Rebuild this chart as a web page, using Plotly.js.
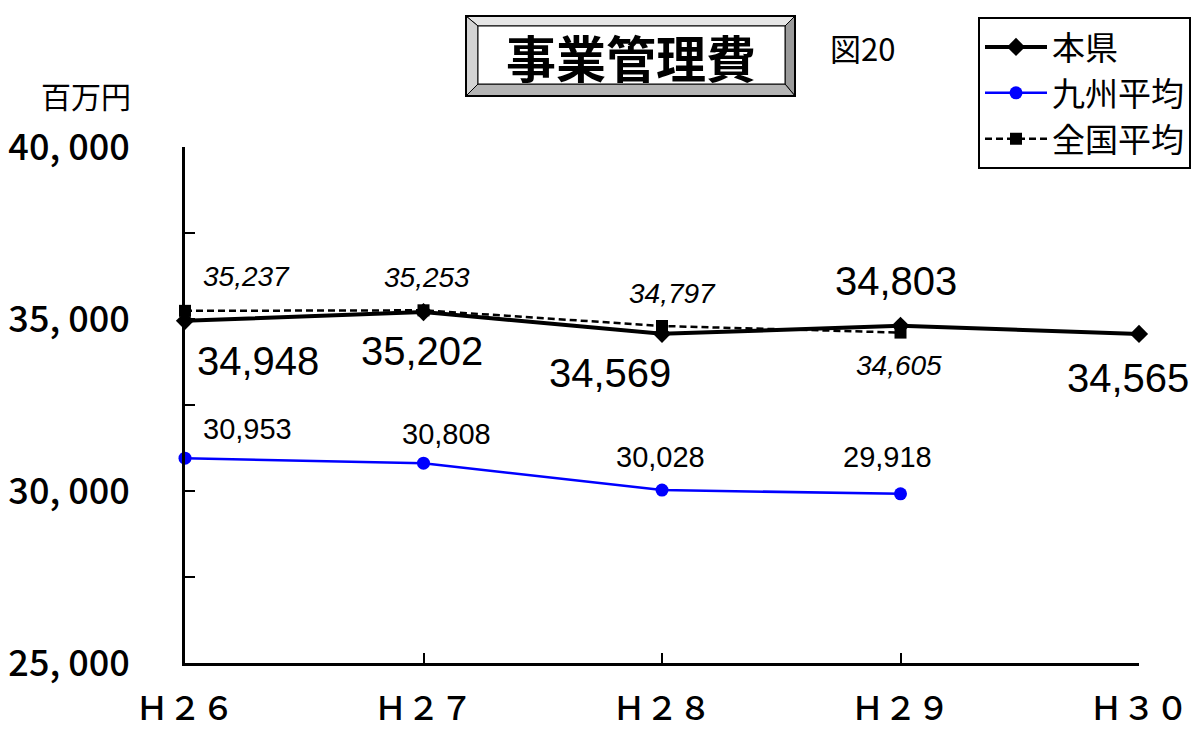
<!DOCTYPE html>
<html>
<head>
<meta charset="utf-8">
<script src="https://cdn.plot.ly/plotly-3.0.1.min.js"></script>
<style>html,body{margin:0;padding:0;background:#fff;}#chart{width:1203px;height:729px;}</style>
</head>
<body>
<div id="chart"></div>
<script>
// ---- data ----
const categories = ["H26", "H27", "H28", "H29", "H30"];
const categoryLabels = ["Ｈ２６", "Ｈ２７", "Ｈ２８", "Ｈ２９", "Ｈ３０"];
const honken = [34948, 35202, 34569, 34803, 34565];
const kyushu = [30953, 30808, 30028, 29918];
const zenkoku = [35237, 35253, 34797, 34605];
const yTickVals = [25000, 27500, 30000, 32500, 35000, 37500, 40000];
const yTickText = ["25, 000", "", "30, 000", "", "35, 000", "", "40, 000"];
const seriesNames = ["本県", "九州平均", "全国平均"];

// ---- layout helpers (pixel -> paper) ----
const W = 1203, H = 729;
const L = 185, R = 1139, T = 147, B = 663;
const px = x => (x - L) / (R - L);
const py = y => (B - y) / (B - T);

const fmt = v => v.toLocaleString("en-US");
const jp = '"Noto Sans CJK JP", "Noto Sans", sans-serif';
const ar = 'Arial, "Liberation Sans", sans-serif';

const traces = [
  {x: categories, y: honken, name: seriesNames[0], mode: "lines+markers",
   line: {color: "#000000", width: 4}, marker: {symbol: "diamond", size: 14, color: "#000000"}, cliponaxis: false},
  {x: categories.slice(0, kyushu.length), y: kyushu, name: seriesNames[1], mode: "lines+markers",
   line: {color: "#0000ff", width: 2.5}, marker: {symbol: "circle", size: 13, color: "#0000ff"}, cliponaxis: false},
  {x: categories.slice(0, zenkoku.length), y: zenkoku, name: seriesNames[2], mode: "lines+markers",
   line: {color: "#000000", width: 2.5, dash: "7px,4px"}, marker: {symbol: "square", size: 12, color: "#000000"}, cliponaxis: false}
];

// label offsets (style)
const honOff = [[73, 40], [-2, 39], [-52, 39], [-5, -45], [-11, 44]];
const kyuOff = [[62, -29], [23, -29], [-2, -33], [-13, -37]];
const zenOff = [[61, -34], [3, -33], [10, -32], [-2, 33]];

const annotations = [];
honken.forEach((v, i) => annotations.push({x: categories[i], y: v, xref: "x", yref: "y", text: fmt(v), showarrow: false,
  xanchor: "center", yanchor: "middle",
  xshift: honOff[i][0], yshift: -honOff[i][1], font: {family: ar, size: 40, color: "#000"}}));
kyushu.forEach((v, i) => annotations.push({x: categories[i], y: v, xref: "x", yref: "y", text: fmt(v), showarrow: false,
  xanchor: "center", yanchor: "middle",
  xshift: kyuOff[i][0], yshift: -kyuOff[i][1], font: {family: ar, size: 29, color: "#000"}}));
zenkoku.forEach((v, i) => annotations.push({x: categories[i], y: v, xref: "x", yref: "y", text: "<i>" + fmt(v) + "</i>", showarrow: false,
  xanchor: "center", yanchor: "middle",
  xshift: zenOff[i][0], yshift: -zenOff[i][1], font: {family: ar, size: 28, color: "#000"}}));

const paperNote = (x, y, text, size) => ({xref: "paper", yref: "paper", x: px(x), y: py(y), text: text, showarrow: false,
  xanchor: "center", yanchor: "middle", font: {family: jp, size: size, color: "#000"}});
annotations.push(paperNote(86, 95, "百万円", 30));
annotations.push(paperNote(862, 47, "図20", 31));
annotations.push(paperNote(631, 56, "<b>事業管理費</b>", 50));

// beveled title frame
const ox0 = 466, ox1 = 795, oy0 = 16, oy1 = 96;
const ix0 = 478, ix1 = 785, iy0 = 26, iy1 = 84;
const poly = (pts, fill) => ({type: "path", xref: "paper", yref: "paper", layer: "above",
  path: "M" + pts.map(p => px(p[0]) + "," + py(p[1])).join("L") + "Z",
  fillcolor: fill, line: {color: "#000", width: 1}});
const shapes = [
  poly([[ox0, oy0], [ox1, oy0], [ix1, iy0], [ix0, iy0]], "#e6e6e6"),
  poly([[ox0, oy0], [ix0, iy0], [ix0, iy1], [ox0, oy1]], "#d4d4d4"),
  poly([[ox1, oy0], [ox1, oy1], [ix1, iy1], [ix1, iy0]], "#9a9a9a"),
  poly([[ox0, oy1], [ix0, iy1], [ix1, iy1], [ox1, oy1]], "#b4b4b4"),
  poly([[ix0, iy0], [ix1, iy0], [ix1, iy1], [ix0, iy1]], "#ffffff"),
  {type: "rect", xref: "paper", yref: "paper", x0: px(ox0), x1: px(ox1), y0: py(oy0), y1: py(oy1),
   line: {color: "#000", width: 2}, layer: "above"}
];

const layout = {
  width: W, height: H,
  margin: {l: L, r: W - R, t: T, b: H - B, pad: 0},
  paper_bgcolor: "#fff", plot_bgcolor: "#fff",
  showlegend: true,
  legend: {x: px(978), y: py(17), xanchor: "left", yanchor: "top",
    bordercolor: "#000", borderwidth: 2, bgcolor: "#fff",
    itemwidth: 62, entrywidth: 198, entrywidthmode: "pixels",
    font: {family: jp, size: 33, color: "#000"}, tracegroupgap: 0},
  xaxis: {type: "category", range: [0, categories.length - 1], tickvals: categories, ticktext: categoryLabels,
    showline: true, linecolor: "#000", linewidth: 3, ticks: "inside", ticklen: 10, tickwidth: 2, tickcolor: "#000",
    showgrid: false, zeroline: false, ticklabelstandoff: 14,
    tickfont: {family: jp, size: 33, color: "#000", weight: 500}},
  yaxis: {range: [25000, 40000], tickvals: yTickVals, ticktext: yTickText,
    showline: true, linecolor: "#000", linewidth: 3, ticks: "inside", ticklen: 10, tickwidth: 2, tickcolor: "#000",
    showgrid: false, zeroline: false, ticklabelstandoff: 45,
    tickfont: {family: jp, size: 36, color: "#000", weight: 500}},
  annotations: annotations,
  shapes: shapes
};

Plotly.newPlot("chart", traces, layout, {displayModeBar: false, staticPlot: true});
</script>
</body>
</html>
